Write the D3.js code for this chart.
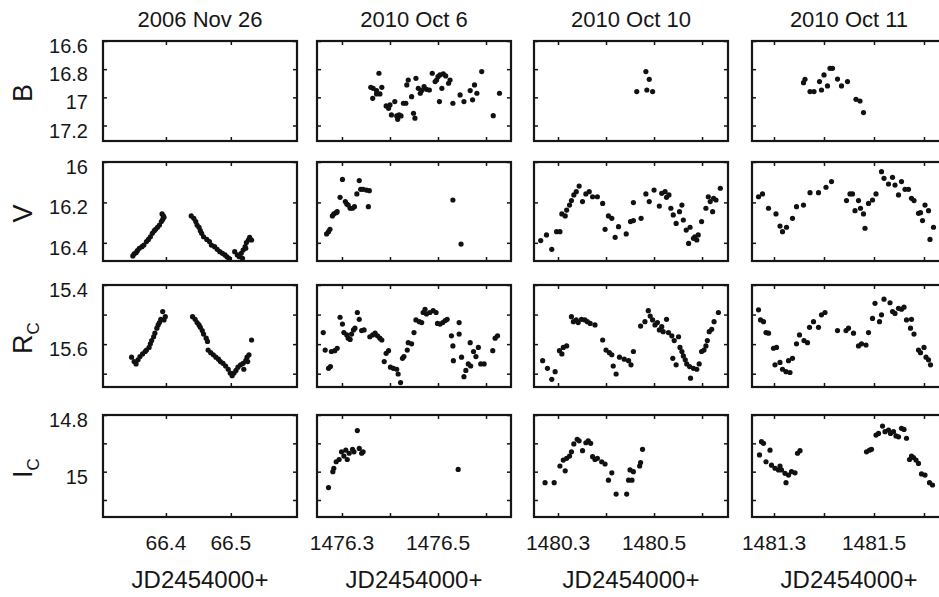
<!DOCTYPE html>
<html>
<head>
<meta charset="utf-8">
<script src="https://cdnjs.cloudflare.com/ajax/libs/d3/7.8.5/d3.min.js"></script>
<style>
    body { margin: 0; background: #fff; }
    svg { display: block; font-family: 'Liberation Sans', Arial, sans-serif; }
</style>
</head>
<body>
<div id="chart"></div>
<script>
// DATA
const nights = ['2006 Nov 26', '2010 Oct 6', '2010 Oct 10', '2010 Oct 11'];
const xDomains = [[66.303, 66.602], [1476.248, 1476.652], [1480.25, 1480.654], [1481.256, 1481.644]];
const xTicks = [[66.4, 66.5], [1476.3, 1476.4, 1476.5, 1476.6], [1480.3, 1480.4, 1480.5, 1480.6], [1481.3, 1481.4, 1481.5, 1481.6]];
const xTickLabels = [[66.4, 66.5], [1476.3, 1476.5], [1480.3, 1480.5], [1481.3, 1481.5]];
const xTitle = 'JD2454000+';

const bands = ['B', 'V', 'R', 'I'];
const bandSubs = ['', '', 'C', 'C'];
const yDomains = [[16.6, 17.31], [16.0, 16.49], [15.4, 15.745], [14.8, 15.16]];
const yTicks = [[16.6, 16.8, 17.0, 17.2], [16.0, 16.2, 16.4], [15.4, 15.5, 15.6, 15.7], [14.8, 14.9, 15.0, 15.1]];
const yTickLabels = [[16.6, 16.8, 17, 17.2], [16, 16.2, 16.4], [15.4, 15.6], [14.8, 15]];

// photometry per night: [JD - 2454000, magnitude]
const bNov26 = [];
const bOct6 = [[1476.377,16.829],[1476.360,16.929],[1476.365,16.936],[1476.372,16.952],[1476.383,16.929],[1476.379,16.976],[1476.372,16.976],[1476.364,17.007],[1476.392,17.061],[1476.397,17.078],[1476.400,17.054],[1476.410,17.030],[1476.403,17.125],[1476.414,17.132],[1476.419,17.125],[1476.416,17.156],[1476.423,17.132],[1476.428,17.042],[1476.433,17.042],[1476.435,16.912],[1476.438,16.877],[1476.445,16.995],[1476.454,16.865],[1476.449,17.113],[1476.452,17.148],[1476.459,16.936],[1476.463,16.971],[1476.466,16.952],[1476.471,16.924],[1476.476,16.943],[1476.482,16.948],[1476.488,16.829],[1476.494,16.888],[1476.497,16.877],[1476.500,16.853],[1476.504,16.841],[1476.511,16.834],[1476.516,16.848],[1476.508,16.936],[1476.522,16.900],[1476.525,16.877],[1476.503,17.030],[1476.531,17.042],[1476.546,16.983],[1476.554,17.030],[1476.567,16.952],[1476.572,17.018],[1476.576,16.912],[1476.581,16.971],[1476.591,16.817],[1476.615,17.130],[1476.628,16.971]];
const bOct10 = [[1480.483,16.817],[1480.490,16.872],[1480.464,16.959],[1480.485,16.948],[1480.497,16.959]];
const bOct11 = [[1481.359,16.896],[1481.362,16.872],[1481.372,16.959],[1481.380,16.959],[1481.391,16.888],[1481.395,16.948],[1481.400,16.841],[1481.407,16.919],[1481.412,16.794],[1481.417,16.794],[1481.427,16.870],[1481.435,16.919],[1481.447,16.888],[1481.464,17.014],[1481.472,17.026],[1481.479,17.108]];

const vNov26 = [[66.349,16.465],[66.351,16.455],[66.354,16.449],[66.356,16.439],[66.359,16.427],[66.363,16.419],[66.366,16.411],[66.370,16.394],[66.373,16.383],[66.376,16.370],[66.379,16.353],[66.382,16.340],[66.384,16.333],[66.387,16.323],[66.390,16.312],[66.393,16.295],[66.395,16.284],[66.396,16.267],[66.394,16.257],[66.397,16.274],[66.439,16.267],[66.443,16.279],[66.446,16.295],[66.448,16.312],[66.451,16.323],[66.453,16.340],[66.455,16.353],[66.458,16.370],[66.463,16.383],[66.467,16.394],[66.470,16.411],[66.475,16.419],[66.479,16.432],[66.483,16.444],[66.487,16.452],[66.491,16.460],[66.494,16.469],[66.497,16.477],[66.506,16.444],[66.510,16.460],[66.513,16.469],[66.516,16.452],[66.519,16.436],[66.522,16.419],[66.524,16.399],[66.527,16.386],[66.529,16.373],[66.518,16.477],[66.523,16.427],[66.532,16.386]];
const vOct6 = [[1476.268,16.356],[1476.272,16.345],[1476.275,16.333],[1476.280,16.267],[1476.283,16.257],[1476.288,16.251],[1476.290,16.246],[1476.296,16.175],[1476.301,16.086],[1476.307,16.196],[1476.310,16.208],[1476.313,16.213],[1476.317,16.229],[1476.322,16.229],[1476.326,16.221],[1476.331,16.158],[1476.336,16.092],[1476.339,16.135],[1476.344,16.135],[1476.351,16.139],[1476.357,16.142],[1476.355,16.221],[1476.531,16.188],[1476.548,16.406]];
const vOct10 = [[1480.264,16.389],[1480.276,16.361],[1480.287,16.432],[1480.297,16.345],[1480.304,16.345],[1480.308,16.257],[1480.315,16.267],[1480.318,16.238],[1480.324,16.213],[1480.328,16.191],[1480.333,16.163],[1480.338,16.147],[1480.344,16.119],[1480.351,16.196],[1480.358,16.158],[1480.365,16.147],[1480.372,16.172],[1480.382,16.172],[1480.393,16.205],[1480.405,16.267],[1480.412,16.279],[1480.398,16.333],[1480.419,16.373],[1480.426,16.320],[1480.442,16.356],[1480.451,16.295],[1480.457,16.201],[1480.457,16.290],[1480.473,16.279],[1480.483,16.158],[1480.490,16.196],[1480.500,16.139],[1480.511,16.218],[1480.516,16.155],[1480.523,16.147],[1480.526,16.175],[1480.531,16.163],[1480.535,16.229],[1480.540,16.262],[1480.546,16.304],[1480.553,16.246],[1480.558,16.213],[1480.561,16.287],[1480.567,16.337],[1480.572,16.403],[1480.575,16.323],[1480.582,16.378],[1480.585,16.370],[1480.589,16.386],[1480.592,16.361],[1480.599,16.295],[1480.608,16.229],[1480.613,16.172],[1480.617,16.196],[1480.622,16.246],[1480.624,16.180],[1480.629,16.188],[1480.638,16.130]];
const vOct11 = [[1481.269,16.172],[1481.277,16.158],[1481.289,16.229],[1481.304,16.257],[1481.312,16.317],[1481.317,16.345],[1481.325,16.323],[1481.337,16.279],[1481.345,16.221],[1481.359,16.213],[1481.372,16.152],[1481.389,16.152],[1481.404,16.125],[1481.415,16.097],[1481.445,16.191],[1481.452,16.158],[1481.457,16.158],[1481.462,16.241],[1481.469,16.191],[1481.473,16.229],[1481.479,16.257],[1481.482,16.328],[1481.489,16.205],[1481.497,16.188],[1481.504,16.158],[1481.515,16.048],[1481.520,16.081],[1481.529,16.109],[1481.537,16.076],[1481.542,16.114],[1481.549,16.163],[1481.555,16.097],[1481.562,16.135],[1481.569,16.135],[1481.575,16.180],[1481.580,16.191],[1481.589,16.254],[1481.593,16.251],[1481.597,16.290],[1481.602,16.213],[1481.609,16.241],[1481.612,16.383],[1481.619,16.323]];

const rNov26 = [[66.347,15.644],[66.351,15.659],[66.354,15.667],[66.357,15.653],[66.360,15.642],[66.364,15.633],[66.368,15.625],[66.370,15.620],[66.374,15.611],[66.376,15.599],[66.378,15.588],[66.381,15.575],[66.383,15.563],[66.386,15.546],[66.388,15.535],[66.390,15.527],[66.392,15.516],[66.395,15.490],[66.397,15.518],[66.399,15.507],[66.441,15.507],[66.445,15.516],[66.448,15.527],[66.451,15.535],[66.453,15.543],[66.456,15.554],[66.458,15.566],[66.462,15.580],[66.464,15.591],[66.465,15.620],[66.469,15.629],[66.473,15.636],[66.477,15.644],[66.481,15.651],[66.484,15.659],[66.488,15.665],[66.492,15.674],[66.496,15.685],[66.499,15.698],[66.502,15.707],[66.505,15.698],[66.508,15.689],[66.511,15.678],[66.515,15.670],[66.519,15.665],[66.523,15.656],[66.525,15.644],[66.528,15.636],[66.532,15.586],[66.520,15.685],[66.526,15.659]];
const rOct6 = [[1476.261,15.561],[1476.265,15.620],[1476.272,15.682],[1476.276,15.676],[1476.278,15.625],[1476.285,15.622],[1476.290,15.614],[1476.296,15.509],[1476.301,15.532],[1476.304,15.561],[1476.310,15.569],[1476.313,15.580],[1476.317,15.584],[1476.320,15.566],[1476.324,15.552],[1476.327,15.546],[1476.332,15.493],[1476.336,15.516],[1476.341,15.554],[1476.346,15.552],[1476.358,15.575],[1476.364,15.569],[1476.369,15.563],[1476.374,15.572],[1476.379,15.580],[1476.383,15.586],[1476.388,15.659],[1476.392,15.631],[1476.397,15.622],[1476.401,15.678],[1476.407,15.682],[1476.414,15.685],[1476.417,15.701],[1476.422,15.730],[1476.426,15.648],[1476.429,15.642],[1476.436,15.620],[1476.438,15.595],[1476.445,15.599],[1476.450,15.561],[1476.454,15.518],[1476.461,15.524],[1476.466,15.527],[1476.469,15.493],[1476.473,15.482],[1476.476,15.498],[1476.483,15.493],[1476.490,15.487],[1476.496,15.493],[1476.499,15.530],[1476.504,15.532],[1476.510,15.527],[1476.515,15.520],[1476.519,15.516],[1476.528,15.572],[1476.531,15.606],[1476.532,15.656],[1476.544,15.527],[1476.544,15.566],[1476.549,15.644],[1476.554,15.710],[1476.558,15.689],[1476.563,15.667],[1476.568,15.674],[1476.567,15.595],[1476.574,15.625],[1476.579,15.642],[1476.584,15.611],[1476.589,15.667],[1476.596,15.667],[1476.614,15.622],[1476.619,15.580],[1476.624,15.572]];
const rOct10 = [[1480.268,15.656],[1480.278,15.682],[1480.287,15.719],[1480.294,15.693],[1480.303,15.622],[1480.308,15.633],[1480.311,15.611],[1480.318,15.606],[1480.328,15.507],[1480.332,15.524],[1480.338,15.518],[1480.342,15.527],[1480.349,15.516],[1480.356,15.518],[1480.361,15.524],[1480.367,15.530],[1480.377,15.535],[1480.393,15.586],[1480.400,15.620],[1480.407,15.629],[1480.412,15.636],[1480.415,15.674],[1480.421,15.701],[1480.428,15.644],[1480.438,15.651],[1480.447,15.656],[1480.452,15.670],[1480.457,15.625],[1480.472,15.539],[1480.481,15.524],[1480.488,15.487],[1480.492,15.505],[1480.497,15.518],[1480.502,15.535],[1480.507,15.527],[1480.511,15.552],[1480.516,15.541],[1480.519,15.558],[1480.526,15.516],[1480.530,15.561],[1480.537,15.572],[1480.542,15.588],[1480.539,15.648],[1480.546,15.670],[1480.551,15.575],[1480.554,15.611],[1480.558,15.625],[1480.561,15.640],[1480.565,15.653],[1480.568,15.667],[1480.574,15.676],[1480.576,15.715],[1480.582,15.682],[1480.589,15.685],[1480.594,15.667],[1480.599,15.625],[1480.604,15.620],[1480.608,15.606],[1480.611,15.588],[1480.615,15.558],[1480.620,15.550],[1480.625,15.524],[1480.634,15.493]];
const rOct11 = [[1481.269,15.484],[1481.273,15.518],[1481.279,15.524],[1481.284,15.561],[1481.289,15.563],[1481.299,15.614],[1481.305,15.611],[1481.302,15.670],[1481.312,15.662],[1481.317,15.685],[1481.324,15.693],[1481.332,15.696],[1481.329,15.656],[1481.337,15.648],[1481.345,15.599],[1481.351,15.569],[1481.360,15.588],[1481.367,15.595],[1481.371,15.543],[1481.379,15.524],[1481.389,15.543],[1481.395,15.501],[1481.402,15.493],[1481.427,15.554],[1481.444,15.554],[1481.449,15.546],[1481.459,15.563],[1481.469,15.606],[1481.475,15.599],[1481.484,15.603],[1481.489,15.561],[1481.497,15.513],[1481.502,15.462],[1481.511,15.524],[1481.515,15.501],[1481.520,15.448],[1481.532,15.460],[1481.537,15.490],[1481.542,15.496],[1481.549,15.479],[1481.555,15.482],[1481.560,15.475],[1481.565,15.518],[1481.575,15.516],[1481.573,15.546],[1481.580,15.566],[1481.589,15.620],[1481.593,15.629],[1481.600,15.611],[1481.604,15.644],[1481.609,15.653],[1481.613,15.670]];

const iNov26 = [];
const iOct6 = [[1476.272,15.056],[1476.281,15.000],[1476.283,14.988],[1476.288,14.965],[1476.294,14.957],[1476.299,14.930],[1476.304,14.945],[1476.308,14.924],[1476.311,14.957],[1476.315,14.935],[1476.322,14.921],[1476.325,14.930],[1476.332,14.855],[1476.336,14.918],[1476.341,14.935],[1476.344,14.930],[1476.542,14.992]];
const iOct10 = [[1480.273,15.039],[1480.292,15.039],[1480.304,14.980],[1480.315,14.997],[1480.311,14.959],[1480.318,14.953],[1480.324,14.945],[1480.328,14.930],[1480.333,14.902],[1480.340,14.886],[1480.344,14.891],[1480.351,14.926],[1480.358,14.898],[1480.363,14.891],[1480.368,14.900],[1480.372,14.947],[1480.377,14.957],[1480.382,14.953],[1480.391,14.965],[1480.398,14.973],[1480.405,15.030],[1480.412,15.004],[1480.421,15.079],[1480.443,15.079],[1480.447,15.030],[1480.454,15.030],[1480.450,14.994],[1480.457,15.000],[1480.470,14.980],[1480.472,14.968],[1480.476,14.921]];
const iOct11 = [[1481.271,14.941],[1481.275,14.894],[1481.279,14.900],[1481.284,14.965],[1481.292,14.924],[1481.295,14.977],[1481.302,14.988],[1481.309,14.994],[1481.312,14.980],[1481.315,14.994],[1481.322,15.006],[1481.324,15.039],[1481.329,15.012],[1481.335,15.000],[1481.342,15.004],[1481.347,14.935],[1481.352,14.926],[1481.485,14.930],[1481.491,14.924],[1481.495,14.921],[1481.504,14.871],[1481.509,14.865],[1481.517,14.839],[1481.522,14.859],[1481.529,14.853],[1481.533,14.865],[1481.539,14.859],[1481.544,14.874],[1481.549,14.877],[1481.555,14.847],[1481.560,14.851],[1481.565,14.882],[1481.571,14.957],[1481.575,14.945],[1481.579,14.950],[1481.584,14.959],[1481.589,14.971],[1481.595,15.008],[1481.602,15.012],[1481.611,15.039],[1481.617,15.047]];

const grid = [
    [bNov26, bOct6, bOct10, bOct11],
    [vNov26, vOct6, vOct10, vOct11],
    [rNov26, rOct6, rOct10, rOct11],
    [iNov26, iOct6, iOct10, iOct11]
];

// LAYOUT
const inkColor = '#161616';
const colLeft = [103, 317, 534, 752];
const panelWidth = 194;
const rowTop = [41, 162, 285, 415];
const rowHeight = [100, 99, 102, 102];

const svg = d3.select('#chart')
    .append('svg')
    .attr('width', 939)
    .attr('height', 597);

svg.append('rect')
    .attr('width', 939)
    .attr('height', 597)
    .attr('fill', '#fff');

const fmt = v => String(+v);

for (let r = 0; r < 4; r++) {
    for (let c = 0; c < 4; c++) {
        buildPanel(r, c);
    }
}

function buildPanel(r, c) {
    const w = panelWidth;
    const h = rowHeight[r];

    const x = d3.scaleLinear().domain(xDomains[c]).range([0, w]);
    const y = d3.scaleLinear().domain(yDomains[r]).range([0, h]);

    const g = svg.append('g')
        .attr('transform', `translate(${colLeft[c]},${rowTop[r]})`)
        .style('color', inkColor);

    // inward tick marks on all four sides
    g.append('g').call(d3.axisTop(x).tickValues(xTicks[c]).tickSize(-4).tickFormat(''));
    g.append('g').attr('transform', `translate(0,${h})`)
        .call(d3.axisBottom(x).tickValues(xTicks[c]).tickSize(-4).tickFormat(''));
    g.append('g').call(d3.axisLeft(y).tickValues(yTicks[r]).tickSize(-4).tickFormat(''));
    g.append('g').attr('transform', `translate(${w},0)`)
        .call(d3.axisRight(y).tickValues(yTicks[r]).tickSize(-4).tickFormat(''));
    g.selectAll('.domain').remove();
    g.selectAll('.tick line').attr('stroke-width', 1.5);

    g.append('rect')
        .attr('width', w)
        .attr('height', h)
        .attr('fill', 'none')
        .attr('stroke', inkColor)
        .attr('stroke-width', 2.2);

    g.selectAll('circle')
        .data(grid[r][c])
        .enter()
        .append('circle')
        .attr('cx', d => x(d[0]))
        .attr('cy', d => y(d[1]))
        .attr('r', 2.6)
        .attr('fill', '#111');

    // column title
    if (r === 0) {
        g.append('text')
            .attr('x', w / 2)
            .attr('y', -14)
            .attr('text-anchor', 'middle')
            .attr('font-size', 22)
            .attr('fill', inkColor)
            .text(nights[c]);
    }

    // bottom row: x tick labels and axis title
    if (r === 3) {
        g.selectAll('.xlab')
            .data(xTickLabels[c])
            .enter()
            .append('text')
            .attr('class', 'xlab')
            .attr('x', d => x(d))
            .attr('y', h + 33)
            .attr('text-anchor', 'middle')
            .attr('font-size', 21)
            .attr('fill', inkColor)
            .text(fmt);

        g.append('text')
            .attr('x', w / 2)
            .attr('y', h + 71)
            .attr('text-anchor', 'middle')
            .attr('font-size', 24)
            .attr('fill', inkColor)
            .text(xTitle);
    }

    // left column: y tick labels and band name
    if (c === 0) {
        g.selectAll('.ylab')
            .data(yTickLabels[r])
            .enter()
            .append('text')
            .attr('class', 'ylab')
            .attr('x', -15)
            .attr('y', d => y(d) + 5)
            .attr('dy', '0.35em')
            .attr('text-anchor', 'end')
            .attr('font-size', 20)
            .attr('fill', inkColor)
            .text(fmt);

        const band = g.append('text')
            .attr('transform', `translate(${32 - colLeft[0]},${h / 2 + 2}) rotate(-90)`)
            .attr('text-anchor', 'middle')
            .attr('font-size', 27)
            .attr('fill', inkColor);
        band.append('tspan').text(bands[r]);
        if (bandSubs[r]) {
            band.append('tspan')
                .attr('dy', 7)
                .attr('font-size', 17)
                .text(bandSubs[r]);
        }
    }
}
</script>
</body>
</html>
